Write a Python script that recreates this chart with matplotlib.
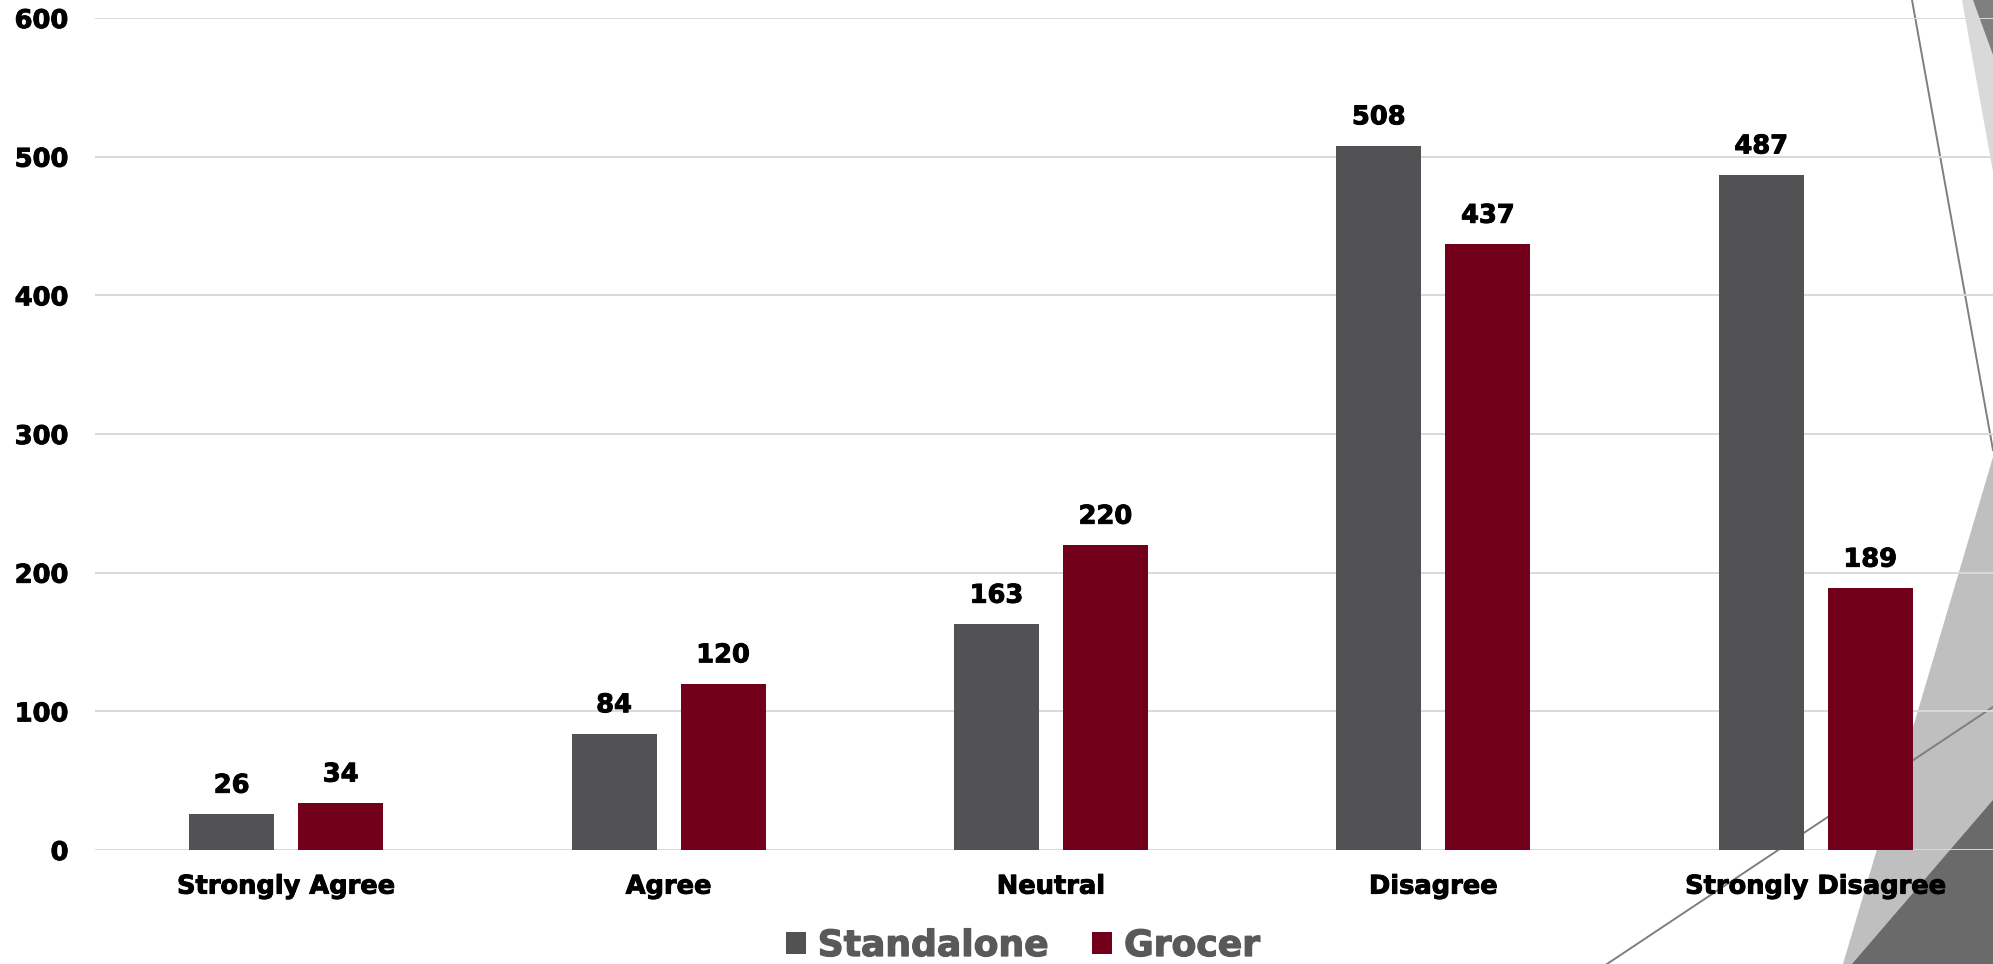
import matplotlib
matplotlib.use("Agg")
import matplotlib.pyplot as plt
import matplotlib.patheffects as pe
import numpy as np
from matplotlib.patches import Polygon
from matplotlib.lines import Line2D

categories = ["Strongly Agree", "Agree", "Neutral", "Disagree", "Strongly Disagree"]
standalone = [26, 84, 163, 508, 487]
grocer = [34, 120, 220, 437, 189]
y_ticks = [0, 100, 200, 300, 400, 500, 600]

W, H = 1993, 964
fig = plt.figure(figsize=(W / 100, H / 100), dpi=100)


def px(x, y):
    # pixel coords (top-left origin) -> figure fraction
    return (x / W, 1 - y / H)


# decorative slide shapes in the background
shapes = [
    ([(1962, 0), (1993, 0), (1993, 172)], "#d9d9d9"),
    ([(1973, 0), (1993, 0), (1993, 55)], "#7f7f7f"),
    ([(1993, 457), (1843, 964), (1993, 964)], "#bfbfbf"),
    ([(1993, 800), (1852, 964), (1993, 964)], "#6a6a6a"),
]
for pts, c in shapes:
    fig.patches.append(Polygon([px(*p) for p in pts], closed=True, transform=fig.transFigure,
                               facecolor=c, edgecolor="none", zorder=-2))
for (x0, y0), (x1, y1) in [((1912, 0), (1993, 450)), ((1993, 707), (1607, 964))]:
    a, b = px(x0, y0), px(x1, y1)
    fig.lines.append(Line2D([a[0], b[0]], [a[1], b[1]], transform=fig.transFigure,
                            color="#7f7f7f", linewidth=1.4, zorder=-1))

ax = fig.add_axes([95 / W, (H - 850) / H, (2007 - 95) / W, (850 - 18) / H])
ax.patch.set_alpha(0)

heavy_black = [pe.withStroke(linewidth=0.7, foreground="black")]
heavy_grey = [pe.withStroke(linewidth=0.9, foreground="#595959")]

x = np.arange(len(categories))
bw = 0.222
off = 0.1425
b1 = ax.bar(x - off, standalone, bw, color="#525153", label="Standalone", zorder=3)
b2 = ax.bar(x + off, grocer, bw, color="#72001b", label="Grocer", zorder=3)

for bars, vals in [(b1, standalone), (b2, grocer)]:
    for r, v in zip(bars, vals):
        ax.annotate(str(v), (r.get_x() + r.get_width() / 2, v), xytext=(0, 11),
                    textcoords="offset points", ha="center", va="bottom",
                    fontsize=18.5, fontweight="bold", color="black",
                    path_effects=heavy_black)

ax.set_xlim(-0.5, 4.5)
ax.set_ylim(0, 600)
ax.set_yticks(y_ticks)
ax.set_xticks(x)
ax.set_xticklabels(categories)
ax.tick_params(axis="both", length=0, labelsize=18.5)
ax.tick_params(axis="y", pad=19)
ax.tick_params(axis="x", pad=17)
for lab in ax.get_xticklabels() + ax.get_yticklabels():
    lab.set_fontweight("bold")
    lab.set_path_effects(heavy_black)
ax.grid(axis="y", color="#d9d9d9", linewidth=1.4, zorder=0)
ax.set_axisbelow(True)
for s in ax.spines.values():
    s.set_visible(False)

leg = fig.legend(handles=[b1, b2], loc="center", bbox_to_anchor=(1023 / W, 1 - 946 / H),
                 ncol=2, frameon=False, fontsize=26, handlelength=0.55, handleheight=0.55,
                 handletextpad=0.33, columnspacing=1.2, borderpad=0)
for t in leg.get_texts():
    t.set_color("#595959")
    t.set_fontweight("bold")
    t.set_path_effects(heavy_grey)

fig.savefig("out.png", dpi=100)
